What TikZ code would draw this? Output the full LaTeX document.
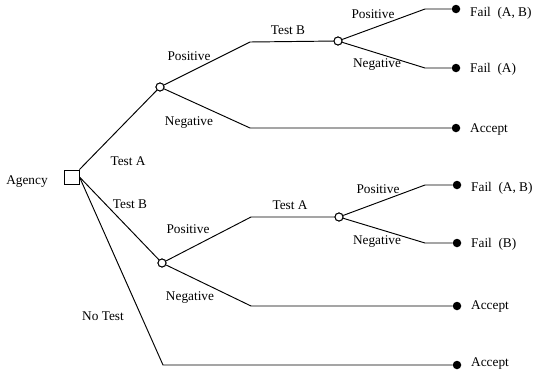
\documentclass[tikz,border=0pt]{standalone}
\usepackage{fontspec}
\setmainfont{Liberation Serif}
\begin{document}
\begin{tikzpicture}[x=1pt,y=-1pt,
  every node/.style={font=\fontsize{13.3}{15}\selectfont},
  branch/.style={line width=0.95pt},
  decision/.style={draw,line width=0.95pt,rectangle,minimum width=15pt,minimum height=14pt,inner sep=0pt},
  chance/.style={draw,line width=0.95pt,circle,fill=white,minimum size=8pt,inner sep=0pt},
  leaf/.style={circle,fill=black,minimum size=8.5pt,inner sep=0pt},
  lbl/.style={inner sep=1pt}]
\useasboundingbox (0,0) rectangle (533,375);

% decision and chance nodes
\node[decision] (sq) at (71.5,177) {};
\node[chance] (ca) at (160,87) {};
\node[chance] (cab) at (338,41) {};
\node[chance] (cb) at (162,263) {};
\node[chance] (cba) at (339,217) {};

% bend points
\coordinate (ap) at (250,42);
\coordinate (an) at (250,128);
\coordinate (abp) at (425,9);
\coordinate (abn) at (425,68);
\coordinate (bp) at (251,217);
\coordinate (bn) at (251,306);
\coordinate (bap) at (425,185);
\coordinate (ban) at (425,243);
\coordinate (nt) at (163,365);

% outcome dots
\node[leaf] (e1) at (456,9) {};
\node[leaf] (e2) at (456,68) {};
\node[leaf] (e3) at (456,128) {};
\node[leaf] (e4) at (457,185) {};
\node[leaf] (e5) at (457,243) {};
\node[leaf] (e6) at (457,306) {};
\node[leaf] (e7) at (457,365) {};

% branches
\draw[branch] (sq.north east) -- (ca);
\draw[branch] (sq.east) -- (cb);
\draw[branch] (sq.east) -- (nt) -- (e7);
\draw[branch] (ca) -- (ap) -- (cab);
\draw[branch] (ca) -- (an) -- (e3);
\draw[branch] (cab) -- (abp) -- (e1);
\draw[branch] (cab) -- (abn) -- (e2);
\draw[branch] (cb) -- (bp) -- (cba);
\draw[branch] (cb) -- (bn) -- (e6);
\draw[branch] (cba) -- (bap) -- (e4);
\draw[branch] (cba) -- (ban) -- (e5);

% redraw chance nodes on top of the lines
\node[chance] at (ca) {};
\node[chance] at (cab) {};
\node[chance] at (cb) {};
\node[chance] at (cba) {};

% branch labels
\node[lbl] (tAgency) at (27,182) {Agency};
\node[lbl] (tA) at (128,161) {Test A};
\node[lbl] (tB) at (130,204) {Test B};
\node[lbl] (tN) at (103,316) {No Test};
\node[lbl] (l1) at (189,56) {Positive};
\node[lbl] (l2) at (189,123) {Negative};
\node[lbl] (l3) at (288,30) {Test B};
\node[lbl] (l4) at (373,14) {Positive};
\node[lbl] (l5) at (377,65) {Negative};
\node[lbl] (l6) at (188,229) {Positive};
\node[lbl] (l7) at (190,298) {Negative};
\node[lbl] (l8) at (290,205) {Test A};
\node[lbl] (l9) at (378,189) {Positive};
\node[lbl] (l10) at (377,242) {Negative};

% outcome labels
\node[lbl,anchor=west] (o1) at (469,13) {Fail\ \ (A, B)};
\node[lbl,anchor=west] (o2) at (469,69) {Fail\ \ (A)};
\node[lbl,anchor=west] (o3) at (469,130) {Accept};
\node[lbl,anchor=west] (o4) at (470,188) {Fail\ \ (A, B)};
\node[lbl,anchor=west] (o5) at (470,244) {Fail\ \ (B)};
\node[lbl,anchor=west] (o6) at (470,307) {Accept};
\node[lbl,anchor=west] (o7) at (470,364) {Accept};
\end{tikzpicture}
\end{document}
